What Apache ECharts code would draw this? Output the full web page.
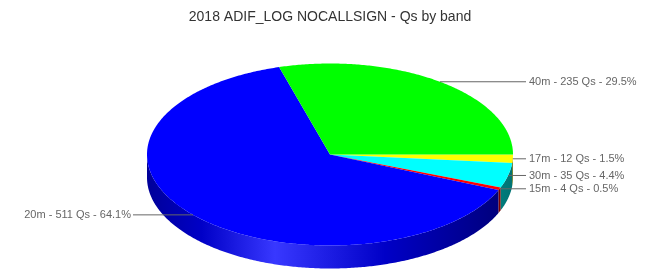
<!DOCTYPE html>
<html>
<head>
<meta charset="utf-8">
<script src="https://cdn.jsdelivr.net/npm/echarts@6/dist/echarts.min.js"></script>
<style>html,body{margin:0;padding:0;background:#fff}#c{width:660px;height:280px}</style>
</head>
<body>
<div id="c"></div>
<script>
const titleText = '2018 ADIF_LOG NOCALLSIGN - Qs by band';
const categories = ['17m', '30m', '15m', '20m', '40m'];
const counts = [12, 35, 4, 511, 235];
const sliceColors = ['#ffff00', '#00ffff', '#ff0000', '#0000ff', '#00ff00'];

const total = counts.reduce((a, b) => a + b, 0);
const cumBefore = counts.map((v, i) => counts.slice(0, i).reduce((a, b) => a + b, 0));

// layout constants
const CX = 330, CY = 154.5, RX = 183, RY = 91, DEPTH = 23;
const RIGHT_LABEL_X = 526, LEFT_LABEL_X = 133;

function hexToRgb(h) {
  return [parseInt(h.slice(1, 3), 16), parseInt(h.slice(3, 5), 16), parseInt(h.slice(5, 7), 16)];
}
function shade(h, f) {
  const c = hexToRgb(h).map(v => Math.round(v * f));
  return 'rgb(' + c.join(',') + ')';
}
function lighten(h, f) {
  const c = hexToRgb(h).map(v => Math.round(v + (255 - v) * f));
  return 'rgb(' + c.join(',') + ')';
}
function pt(a, dy) {
  return [CX + RX * Math.cos(a), CY + RY * Math.sin(a) + (dy || 0)];
}
function arcPts(a0, a1, dy) {
  const n = Math.max(2, Math.ceil((a1 - a0) / 0.01));
  const out = [];
  for (let k = 0; k <= n; k++) out.push(pt(a0 + (a1 - a0) * k / n, dy));
  return out;
}

const chart = echarts.init(document.getElementById('c'), null, { renderer: 'canvas' });

chart.setOption({
  animation: false,
  title: {
    text: titleText,
    left: 'center',
    top: 5,
    textStyle: { fontSize: 14, fontWeight: 'normal', color: '#333', fontFamily: 'Liberation Sans, Arial, sans-serif' }
  },
  series: [{
    type: 'custom',
    coordinateSystem: 'none',
    data: counts.map((v, i) => [v, cumBefore[i]]),
    renderItem: function (params, api) {
      const i = params.dataIndex;
      const v = api.value(0);
      const before = api.value(1);
      const a0 = before / total * Math.PI * 2;
      const a1 = (before + v) / total * Math.PI * 2;
      const col = sliceColors[i];
      const children = [];
      // front wall: intersect [a0,a1] with [0,PI] and [2PI,3PI]
      [[0, Math.PI], [2 * Math.PI, 3 * Math.PI]].forEach(function (r) {
        const b0 = Math.max(a0, r[0]), b1 = Math.min(a1, r[1]);
        if (b1 > b0) {
          const top = arcPts(b0, b1, 0);
          const bot = arcPts(b0, b1, DEPTH).reverse();
          children.push({
            type: 'polygon',
            shape: { points: top.concat(bot) },
            style: {
              fill: {
                type: 'linear', global: true,
                x: CX - RX, y: 0, x2: CX + RX, y2: 0,
                colorStops: [
                  { offset: 0, color: shade(col, 0.6) },
                  { offset: 0.15, color: shade(col, 0.78) },
                  { offset: 0.35, color: lighten(col, 0.22) },
                  { offset: 0.65, color: shade(col, 0.78) },
                  { offset: 0.9, color: shade(col, 0.55) },
                  { offset: 1, color: shade(col, 0.45) }
                ]
              }
            },
            z2: 1
          });
        }
      });
      // top face
      children.push({
        type: 'polygon',
        shape: { points: [[CX, CY]].concat(arcPts(a0, a1, 0)) },
        style: { fill: col },
        z2: 2
      });
      // label
      const mid = (a0 + a1) / 2;
      const p = pt(mid, 0);
      const right = Math.cos(mid) >= 0;
      const ex = right ? RIGHT_LABEL_X : LEFT_LABEL_X;
      children.push({
        type: 'polyline',
        shape: { points: [[p[0], p[1]], [ex, p[1]]] },
        style: { stroke: '#666', lineWidth: 1, fill: null },
        z2: 3
      });
      const pct = (v / total * 100).toFixed(1);
      children.push({
        type: 'text',
        style: {
          text: categories[i] + ' - ' + v + ' Qs - ' + pct + '%',
          x: right ? ex + 3 : ex - 2,
          y: p[1],
          align: right ? 'left' : 'right',
          verticalAlign: 'middle',
          fill: '#666',
          fontSize: 11,
          fontFamily: 'Liberation Sans, Arial, sans-serif'
        },
        z2: 3
      });
      return { type: 'group', children: children };
    }
  }]
});
</script>
</body>
</html>
